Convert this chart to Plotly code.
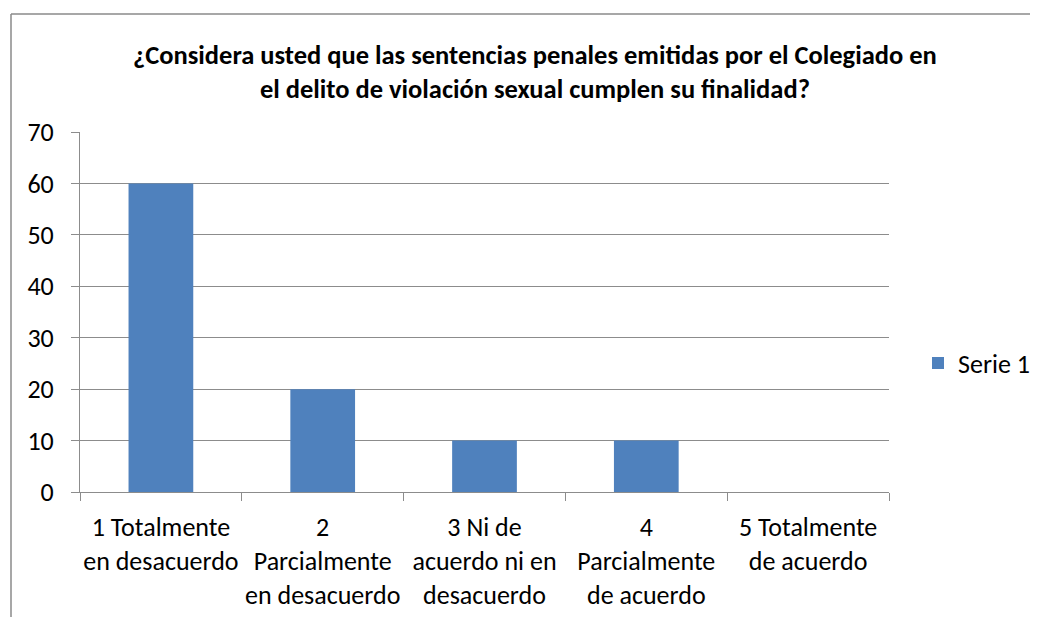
import plotly.graph_objects as go

categories = [
    "1 Totalmente<br>en desacuerdo",
    "2<br>Parcialmente<br>en desacuerdo",
    "3 Ni de<br>acuerdo ni en<br>desacuerdo",
    "4<br>Parcialmente<br>de acuerdo",
    "5 Totalmente<br>de acuerdo",
]
values = [60, 20, 10, 10, 0]
series_name = "Serie 1"
title_text = ("<b>¿Considera usted que las sentencias penales emitidas por el Colegiado en"
              "<br>el delito de violación sexual cumplen su finalidad?</b>")

# page body offsets the figure by 8px; target pixel coordinates are in page space
OFF = 8
W, H = 1030, 609
L, R, T, B = 80 - OFF, 889 - OFF, 132 - OFF, 492 - OFF
pw, ph = R - L, B - T

def px_x(x):
    return (x - OFF - L) / pw

def px_y(y):
    return (B - (y - OFF)) / ph

FONT = "Calibri, Carlito, Lato, sans-serif"
GRID = "#8c8c8c"
BORDER = "#8a8a8a"

fig = go.Figure()
fig.add_trace(go.Bar(
    x=categories, y=values, name=series_name,
    marker=dict(color="#4F81BD", line=dict(width=0)),
    width=0.4, showlegend=True,
))

fig.update_layout(
    width=W, height=H,
    margin=dict(l=L, r=W - R, t=T, b=H - B, autoexpand=False),
    paper_bgcolor="white", plot_bgcolor="white",
    font=dict(family=FONT, size=26, color="#000000"),
    showlegend=True,
    legend=dict(x=px_x(918), y=px_y(363), xanchor="left", yanchor="middle",
                font=dict(family=FONT, size=26, color="#000000"),
                bgcolor="rgba(0,0,0,0)", itemwidth=30),
    bargap=0.6,
    annotations=[dict(
        text=title_text, xref="paper", yref="paper",
        x=px_x(535), y=px_y(72), xanchor="center", yanchor="middle",
        showarrow=False, font=dict(family=FONT, size=26.5, color="#000000"),
        align="center",
    )],
    shapes=[
        dict(type="line", xref="paper", yref="paper",
             x0=px_x(11), x1=px_x(1060), y0=px_y(14), y1=px_y(14),
             line=dict(color=BORDER, width=1.5), layer="below"),
        dict(type="line", xref="paper", yref="paper",
             x0=px_x(11), x1=px_x(11), y0=px_y(14), y1=px_y(640),
             line=dict(color=BORDER, width=1.5), layer="below"),
    ],
)

fig.update_yaxes(
    range=[0, 70], dtick=10, tick0=0,
    showgrid=True, gridcolor=GRID, gridwidth=1,
    showline=True, linecolor=GRID, linewidth=1,
    ticks="outside", ticklen=8, tickcolor=GRID,
    zeroline=False, ticklabelstandoff=12, automargin=False,
)
fig.update_xaxes(
    showgrid=False, showline=True, linecolor=GRID, linewidth=1,
    ticks="outside", ticklen=8, tickcolor=GRID, tickson="boundaries",
    tickangle=0, ticklabelstandoff=12, automargin=False,
)

fig.write_html("out.html")
